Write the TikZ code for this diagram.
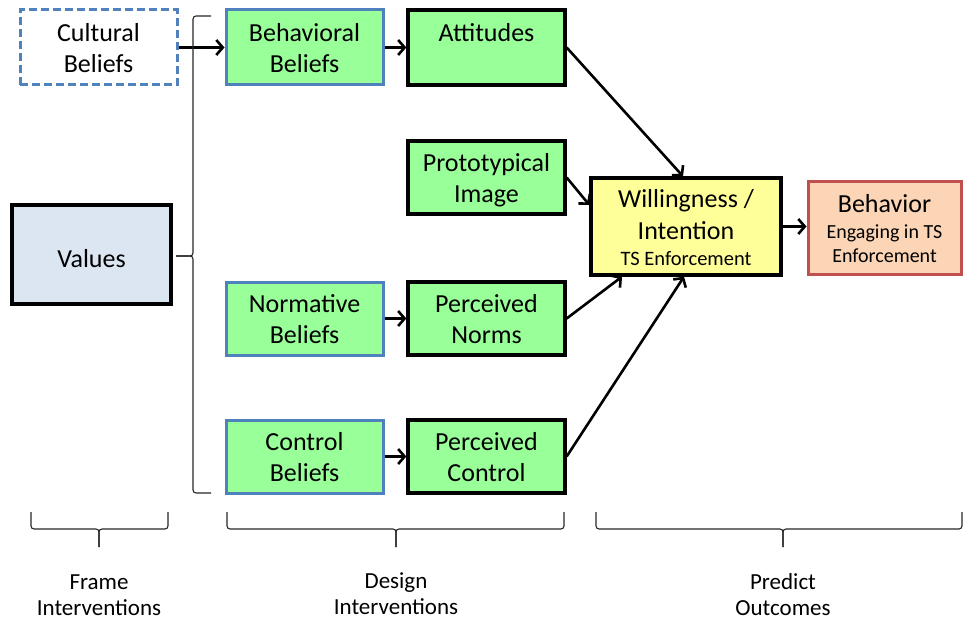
\documentclass[tikz,border=0pt]{standalone}
\usepackage{fontspec}
\setmainfont{Carlito}
\usetikzlibrary{arrows.meta}
\definecolor{boxgreen}{RGB}{153,255,153}
\definecolor{officeblue}{RGB}{79,129,189}
\definecolor{valfill}{RGB}{220,230,242}
\definecolor{willfill}{RGB}{255,255,153}
\definecolor{behfill}{RGB}{251,213,181}
\definecolor{behborder}{RGB}{192,80,77}
\newcommand{\twol}[2]{\strut #1\\\raisebox{0pt}[\height][0pt]{#2}\rule[-3pt]{0pt}{3pt}}
\tikzset{
  base/.style={rectangle, inner sep=0pt, align=center, minimum width=157pt, minimum height=75pt,
    font=\fontsize{26}{31}\selectfont},
  bluebox/.style={base, draw=officeblue, fill=boxgreen, line width=3pt},
  blackbox/.style={base, draw=black, fill=boxgreen, line width=3.3pt},
  dashbox/.style={base, draw=officeblue, fill=white, line width=3pt, dash pattern=on 8pt off 4pt},
  conn/.style={line width=2.6pt, -{Straight Barb[length=6.5pt,width=15pt,line width=2.6pt]}},
  bracepath/.style={line width=1.1pt, draw=black!85, rounded corners=3pt},
  caption/.style={align=center, font=\fontsize{23}{26}\selectfont, inner sep=0pt}
}
\begin{document}
\begin{tikzpicture}[x=1pt,y=-1pt]
\useasboundingbox (0,0) rectangle (963,620);
% boxes
\node[dashbox] (cult) at (98.5,47.5) {\twol{Cultural}{Beliefs}};
\node[bluebox] (bb) at (304.5,47.5) {\twol{Behavioral}{Beliefs}};
\node[blackbox] (att) at (486.5,47.5) {\twol{Attitudes}{}};
\node[blackbox, minimum height=73pt] (proto) at (486.5,177.5) {\twol{Prototypical}{Image}};
\node[bluebox, minimum height=73pt] (norm) at (304.5,318.5) {\twol{Normative}{Beliefs}};
\node[blackbox, minimum height=73pt] (pn) at (486.5,318.5) {\twol{Perceived}{Norms}};
\node[bluebox, minimum height=73pt] (ctrl) at (304.5,456.5) {\twol{Control}{Beliefs}};
\node[blackbox, minimum height=73pt] (pc) at (486.5,456.5) {\twol{Perceived}{Control}};
\node[base, draw=black, fill=valfill, line width=3.3pt, minimum width=159pt, minimum height=99pt] (val) at (91.5,254.5)
  {\rule{0pt}{25.7pt}Values};
\node[base, draw=black, fill=willfill, line width=3.3pt, minimum width=190pt, minimum height=97pt,
  font=\fontsize{26}{32}\selectfont] (will) at (686,226.5)
  {\rule{0pt}{22.4pt}Willingness /\\Intention\\[-6pt]\fontsize{20.5}{32}\selectfont TS Enforcement\rule[-2.7pt]{0pt}{2.7pt}};
\node[base, draw=behborder, fill=behfill, line width=3pt, minimum width=153pt, minimum height=92pt,
  font=\fontsize{20}{24}\selectfont] (beh) at (884.5,228)
  {\fontsize{26}{24}\selectfont\rule{0pt}{22pt}Behavior\\[2pt]Engaging in TS\\Enforcement\rule[-3.3pt]{0pt}{3.3pt}};
% connectors
\draw[conn] (cult.east) -- (bb.west);
\draw[conn] (bb.east) -- (att.west);
\draw[conn] (norm.east) -- (pn.west);
\draw[conn] (ctrl.east) -- (pc.west);
\draw[conn] (att.east) -- ([xshift=-3pt]will.north);
\draw[conn] (proto.east) -- ([yshift=21.5pt]will.west);
\draw[conn] (pn.east) -- ([xshift=-64pt]will.south);
\draw[conn] (pc.east) -- ([xshift=-2pt]will.south);
\draw[conn] (will.east) -- (will.east -| beh.west);
% big left brace
\draw[bracepath] (211,16) -- (193,16) -- (193,256) -- (176,256);
\draw[bracepath] (211,493) -- (193,493) -- (193,256) -- (176,256);
% bottom braces
\draw[bracepath] (31,512) -- (31,529) -- (99,529) -- (99,547);
\draw[bracepath] (168,512) -- (168,529) -- (99,529) -- (99,547);
\draw[bracepath] (227,512) -- (227,529) -- (396,529) -- (396,547);
\draw[bracepath] (564,512) -- (564,529) -- (396,529) -- (396,547);
\draw[bracepath] (596,512) -- (596,529) -- (783,529) -- (783,547);
\draw[bracepath] (962,512) -- (962,529) -- (783,529) -- (783,547);
% captions
\node[caption] (capframe) at (99,595.5) {Frame\\Interventions};
\node[caption] (capdesign) at (396,593.5) {Design\\Interventions};
\node[caption] (cappredict) at (783,595) {Predict\\Outcomes};
\end{tikzpicture}
\end{document}
